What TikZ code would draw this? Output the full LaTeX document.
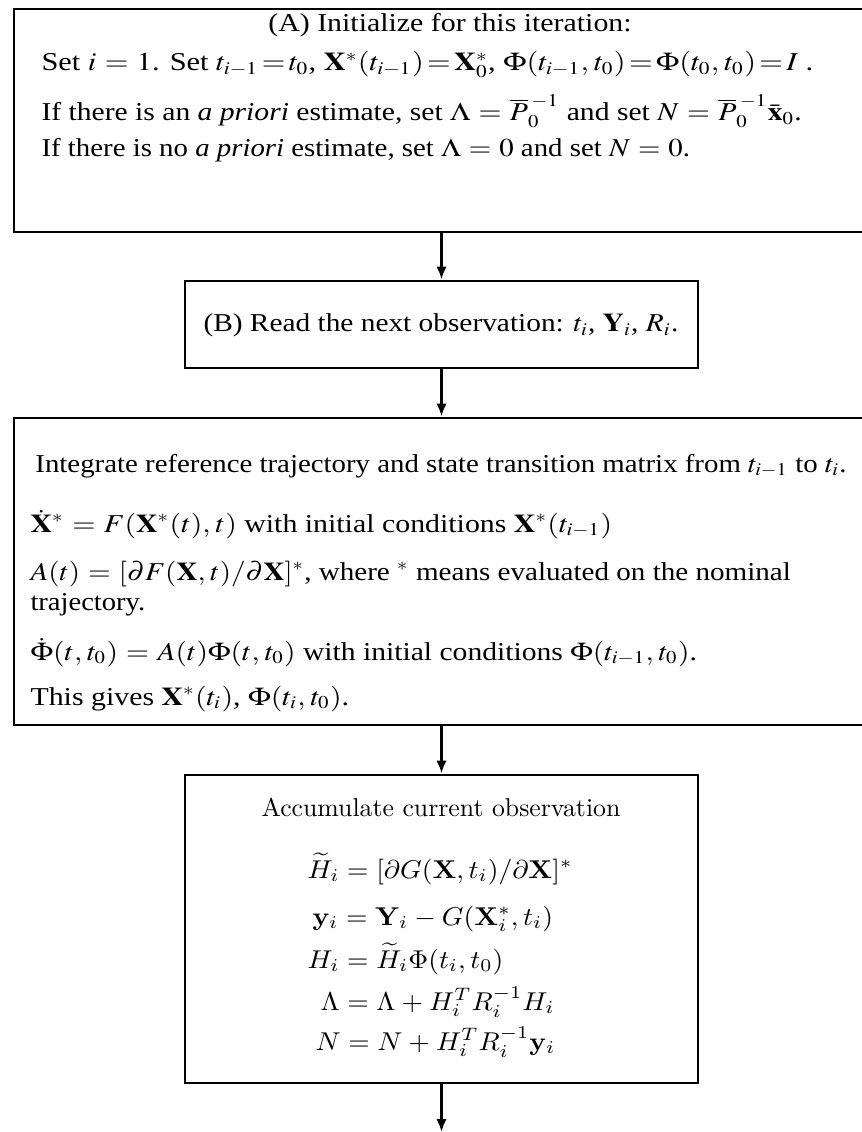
\documentclass[tikz,border=0pt]{standalone}
\usepackage[no-math]{fontspec}
\usepackage{graphicx}
\usetikzlibrary{arrows.meta,fit}
\newfontfamily\tms{Liberation Serif}
\DeclareMathVersion{times}
\SetSymbolFont{operators}{times}{OT1}{ztmcm}{m}{n}
\SetSymbolFont{letters}{times}{OML}{ztmcm}{m}{it}
\SetSymbolFont{symbols}{times}{OMS}{ztmcm}{m}{n}
\SetSymbolFont{largesymbols}{times}{OMX}{ztmcm}{m}{n}
\SetMathAlphabet{\mathbf}{times}{OT1}{ptm}{b}{n}
\SetMathAlphabet{\mathit}{times}{OT1}{ptm}{m}{it}
\newcommand\sx[2]{\scalebox{#1}[1]{#2}}
\tikzset{
  box/.style={draw, line width=1.1pt, inner sep=0pt},
  flow/.style={line width=1pt, -{Latex[length=5pt,width=4pt]}},
  txt/.style={inner sep=0pt, anchor=base west, font=\tms\mathversion{times}},
  txtc/.style={inner sep=0pt, anchor=base, font=\tms\mathversion{times}},
  eq/.style={inner sep=0pt, anchor=base west},
  eqc/.style={inner sep=0pt, anchor=base},
}
\begin{document}
\begin{tikzpicture}[x=0.3884pt, y=-0.3884pt]
\useasboundingbox (0,0) rectangle (861,1132);
% boxes
\node[box, fit={(14,9) (869,232)}] (A) {};
\node[box, fit={(185,281) (698,368)}] (B) {};
\node[box, fit={(14,418) (869,725)}] (C) {};
\node[box, fit={(185,775) (698,1083)}] (D) {};
\coordinate (out) at (441.5,1132);
% box A
\node[txtc] (a1) at (450,32) {\sx{1.16}{(A) Initialize for this iteration:}};
\node[txt] (a2) at (41,71) {\sx{1.18}{Set $i = 1$. Set $t_{i-1}\!=\!t_0$, $\mathbf{X}^*(t_{i-1})\!=\!\mathbf{X}^*_0$, $\Phi(t_{i-1},t_0)\!=\!\Phi(t_0,t_0)\!=\!I$ .}};
\node[txt] (a3) at (41,121) {\sx{1.15}{If there is an \emph{a priori} estimate, set $\Lambda = \overline{P}_0^{\,-1}$ and set $N = \overline{P}_0^{\,-1}\bar{\mathbf{x}}_0$.}};
\node[txt] (a4) at (41,157) {\sx{1.12}{If there is no \emph{a priori} estimate, set $\Lambda = 0$ and set $N = 0$.}};
% box B
\node[txt] (b1) at (203,332) {\sx{1.14}{(B) Read the next observation: $t_i$, $\mathbf{Y}_i$, $R_i$.}};
% box C
\node[txtc] (c1) at (441,472) {\sx{1.12}{Integrate reference trajectory and state transition matrix from $t_{i-1}$ to $t_i$.}};
\node[txt] (c2) at (30,532) {\sx{1.16}{$\dot{\mathbf{X}}^* = F(\mathbf{X}^*(t),t)$ with initial conditions $\mathbf{X}^*(t_{i-1})$}};
\node[txt] (c3) at (30,580) {\sx{1.13}{$A(t) = [\partial F(\mathbf{X},t)/\partial\mathbf{X}]^*$, where $^*$ means evaluated on the nominal}};
\node[txt] (c4) at (30,610) {\sx{1.11}{trajectory.}};
\node[txt] (c5) at (30,660) {\sx{1.15}{$\dot{\Phi}(t,t_0) = A(t)\Phi(t,t_0)$ with initial conditions $\Phi(t_{i-1},t_0)$.}};
\node[txt] (c6) at (30,705) {\sx{1.16}{This gives $\mathbf{X}^*(t_i)$, $\Phi(t_i,t_0)$.}};
% box D
\node[eqc] (d1) at (441,816) {Accumulate current observation};
\node[eq] (d2) at (307,878) {\sx{1.07}{$\widetilde{H}_i = [\partial G(\mathbf{X},t_i)/\partial\mathbf{X}]^*$}};
\node[eq] (d3) at (312,925) {\sx{1.07}{$\mathbf{y}_i = \mathbf{Y}_i - G(\mathbf{X}^*_i,t_i)$}};
\node[eq] (d4) at (307,968) {\sx{1.07}{$H_i = \widetilde{H}_i\Phi(t_i,t_0)$}};
\node[eq] (d5) at (320,1010) {\sx{1.07}{$\Lambda = \Lambda + H_i^T R_i^{-1} H_i$}};
\node[eq] (d6) at (315,1050) {\sx{1.07}{$N = N + H_i^T R_i^{-1}\mathbf{y}_i$}};
% connectors
\draw[flow] (A.south) -- (B.north);
\draw[flow] (B.south) -- (C.north);
\draw[flow] (C.south) -- (D.north);
\draw[flow] (D.south) -- (out);
\end{tikzpicture}
\end{document}
